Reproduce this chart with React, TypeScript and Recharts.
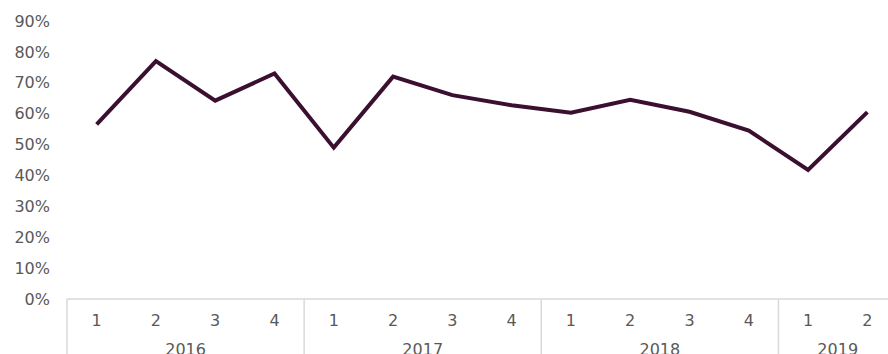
import { Line, LineChart, XAxis, YAxis } from 'recharts'

const years = ['2016', '2016', '2016', '2016', '2017', '2017', '2017', '2017', '2018', '2018', '2018', '2018', '2019', '2019']
const quarters = ['1', '2', '3', '4', '1', '2', '3', '4', '1', '2', '3', '4', '1', '2']
const shares = [0.565, 0.77, 0.642, 0.73, 0.49, 0.72, 0.66, 0.627, 0.603, 0.645, 0.606, 0.545, 0.418, 0.605]
const yTicks = [0, 0.1, 0.2, 0.3, 0.4, 0.5, 0.6, 0.7, 0.8, 0.9]

const rows = shares.map((v, i) => ({ key: `${years[i]}-${quarters[i]}`, value: v }))

const textColor = '#595959'
const sepColor = '#d9d9d9'
const font = 'DejaVu Sans'

function QuarterTick(props: any) {
  const { x, y, payload, width, visibleTicksCount } = props
  const i = payload.index
  const bw = width / visibleTicksCount
  const left = x - bw / 2
  const isStart = i === 0 || years[i] !== years[i - 1]
  let yearLabel = null
  if (isStart) {
    let n = 0
    while (i + n < years.length && years[i + n] === years[i]) n++
    yearLabel = (
      <g>
        <line x1={left} y1={y} x2={left} y2={y + 60} stroke={sepColor} strokeWidth={1.5} />
        <text x={left + (n * bw) / 2} y={y + 56} textAnchor="middle" fill={textColor} fontSize={16} fontFamily={font}>
          {years[i]}
        </text>
      </g>
    )
  }
  return (
    <g>
      {yearLabel}
      <text x={x} y={y + 27} textAnchor="middle" fill={textColor} fontSize={16} fontFamily={font}>
        {quarters[i]}
      </text>
    </g>
  )
}

export default function App() {
  return (
    <div style={{ position: 'fixed', left: 0, top: 0, width: 888, height: 354, overflow: 'hidden', background: '#fff' }}>
      <LineChart width={903} height={354} data={rows} margin={{ top: 21, right: 6, bottom: 0, left: 0 }}>
        <XAxis
          dataKey="key"
          scale="band"
          interval={0}
          height={55}
          axisLine={{ stroke: sepColor, strokeWidth: 1.5 }}
          tickLine={false}
          tickSize={0}
          tickMargin={0}
          tick={<QuarterTick />}
        />
        <YAxis
          width={67}
          domain={[0, 0.9]}
          ticks={yTicks}
          axisLine={false}
          tickLine={false}
          tickMargin={11}
          tickFormatter={(v: number) => `${Math.round(v * 100)}%`}
          tick={{ fill: textColor, fontSize: 16, fontFamily: font }}
        />
        <Line
          type="linear"
          dataKey="value"
          stroke="#3a0f2f"
          strokeWidth={4}
          dot={false}
          isAnimationActive={false}
        />
      </LineChart>
    </div>
  )
}
